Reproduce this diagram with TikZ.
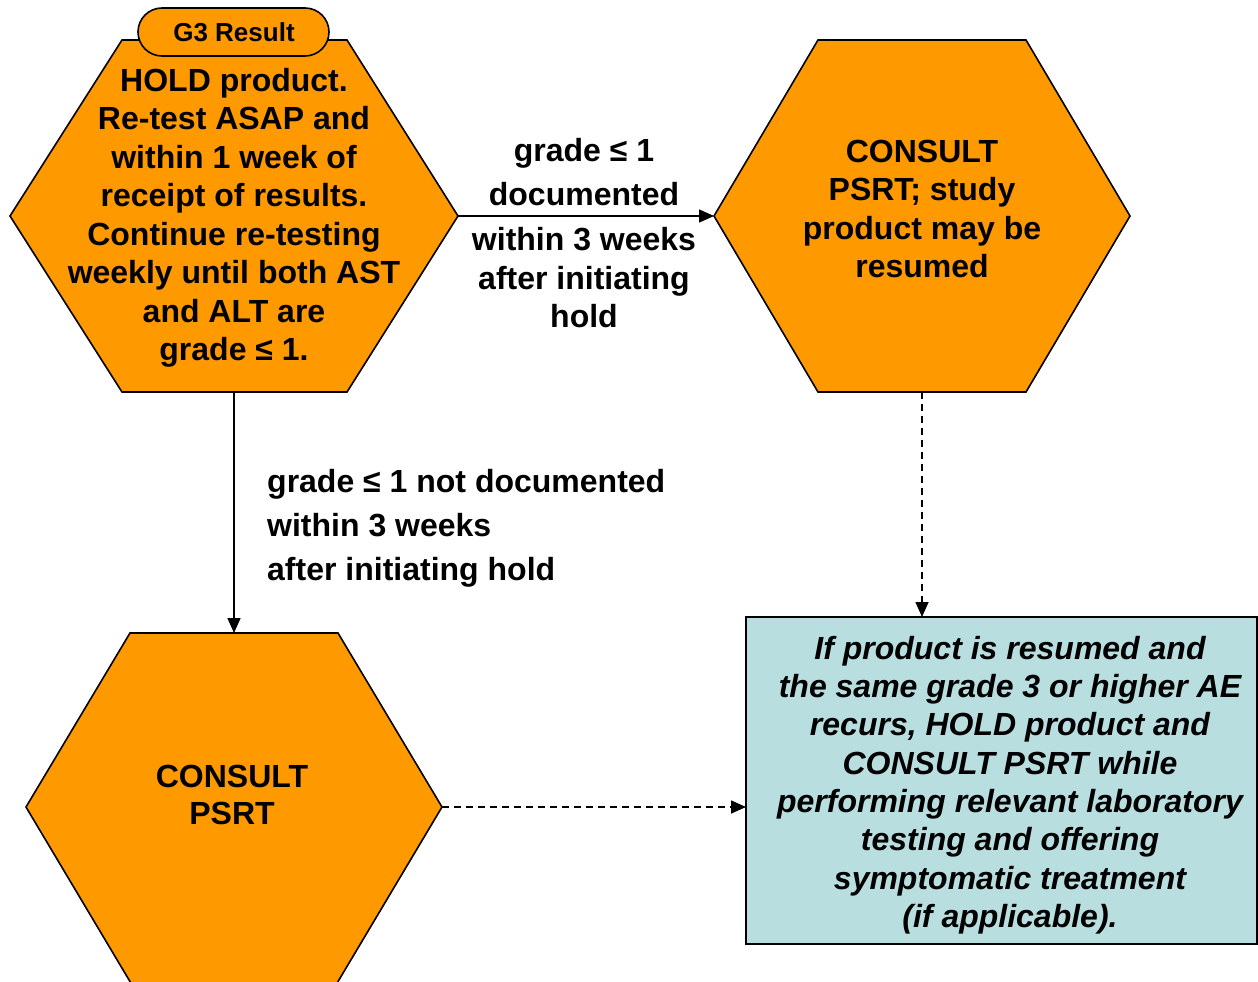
\documentclass[tikz,border=0pt]{standalone}
\usepackage{fontspec}
\setmainfont{Liberation Sans}
\usetikzlibrary{arrows.meta}
\definecolor{hexorange}{RGB}{255,153,0}
\definecolor{notecyan}{RGB}{185,222,224}
\begin{document}
\begin{tikzpicture}[x=1pt,y=-1pt,
  hexa/.style={fill=hexorange,draw=black,line width=1.6pt,line join=miter},
  lbl/.style={font=\fontsize{32}{38.5}\selectfont\bfseries,align=center,inner sep=0pt},
  edgelbl/.style={font=\fontsize{32}{44}\selectfont\bfseries,inner sep=0pt},
  solidarrow/.style={line width=1.6pt,-{Triangle[length=15pt,width=13pt]}},
  dasharrow/.style={line width=1.6pt,dash pattern=on 7pt off 5pt,-{Triangle[length=15pt,width=13pt]}}]
\useasboundingbox (0,0) rectangle (1258,982);
\clip (0,0) rectangle (1258,982);

% hexagon: hold product
\draw[hexa] (10,216) coordinate (h1w) -- (122,40) -- (347,40) -- (458,216) coordinate (h1e)
  -- (347,392) -- (122,392) -- cycle;
\coordinate (h1s) at (234,392);
% hexagon: consult, may resume
\draw[hexa] (714,216) coordinate (h2w) -- (818,40) -- (1026,40) -- (1130,216) coordinate (h2e)
  -- (1026,392) -- (818,392) -- cycle;
\coordinate (h2s) at (922,392);
% hexagon: consult
\draw[hexa] (26,807) coordinate (h3w) -- (130,633) -- (338,633) -- (442,807) coordinate (h3e)
  -- (327,1000) -- (141,1000) -- cycle;
\coordinate (h3n) at (234,633);

% note box
\draw[fill=notecyan,draw=black,line width=1.6pt] (746,617) rectangle (1257,944);
\coordinate (bn) at (922,617);
\coordinate (bw) at (746,807);

% tab on the first hexagon
\draw[fill=hexorange,draw=black,line width=1.6pt,rounded corners=24pt] (138,8) rectangle (329,56);
\node[font=\fontsize{26}{30}\selectfont\bfseries,inner sep=0pt] (tab) at (234,32) {G3 Result};

% texts
\node[lbl] (t1) at (234,218) {HOLD product.\\Re-test ASAP and\\within 1 week of\\receipt of results.\\Continue re-testing\\weekly until both AST\\and ALT are\\grade ≤ 1.};
\node[lbl] (t2) at (922,209) {CONSULT\\PSRT; study\\product may be\\resumed};
\node[lbl,font=\fontsize{32}{37}\selectfont\bfseries] (t3) at (232,795) {CONSULT\\PSRT};
\node[lbl,font=\fontsize{32}{38.3}\selectfont\bfseries\itshape] (t4) at (1010,785)
  {If product is resumed and\\the same grade 3 or higher AE\\recurs, HOLD product and\\CONSULT PSRT while\\performing relevant laboratory\\testing and offering\\symptomatic treatment\\(if applicable).};

% connectors
\draw[solidarrow] (h1e) -- (h2w);
\draw[solidarrow] (h1s) -- (h3n);
\draw[dasharrow] (h2s) -- (bn);
\draw[dasharrow] (h3e) -- (bw);

% connector labels
\node[edgelbl,align=center] (l1) at (584,172) {grade ≤ 1\\documented};
\node[lbl] (l2) at (584,278) {within 3 weeks\\after initiating\\hold};
\node[edgelbl,align=left,anchor=west] (l3) at (267,528) {grade ≤ 1 not documented\\within 3 weeks\\after initiating hold};
\end{tikzpicture}
\end{document}
